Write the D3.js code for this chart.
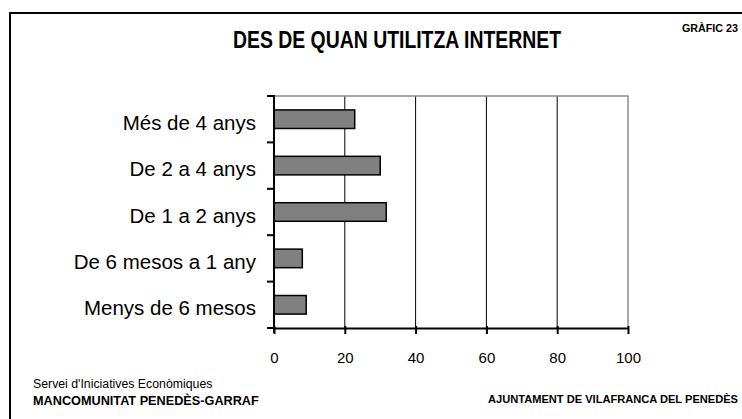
<!DOCTYPE html>
<html>
<head>
<meta charset="utf-8">
<script src="https://cdn.jsdelivr.net/npm/d3@7"></script>
<style>
  body { margin: 0; background: #fff; }
  svg { display: block; }
</style>
</head>
<body>
<svg id="chart"></svg>
<script>
// Data
const categories = ["Més de 4 anys", "De 2 a 4 anys", "De 1 a 2 anys", "De 6 mesos a 1 any", "Menys de 6 mesos"];
const values = [22.8, 30.0, 31.7, 8.0, 9.1];
const xTicks = [0, 20, 40, 60, 80, 100];

const width = 742;
const height = 419;
const margin = {top: 96, right: 114, bottom: 91, left: 274};
const narrow = "'Liberation Sans Narrow', 'Arial Narrow', 'Liberation Sans', sans-serif";
const regular = "'Liberation Sans', Arial, sans-serif";

const svg = d3.select("#chart")
    .attr("width", width)
    .attr("height", height);

// Frame (only top and left visible)
svg.append("path")
    .attr("d", `M10,${height + 5} L10,13 L${width + 5},13`)
    .attr("fill", "none")
    .attr("stroke", "#000")
    .attr("stroke-width", 2);

// Scales
const x = d3.scaleLinear()
    .domain([0, 100])
    .range([margin.left, width - margin.right]);

const y = d3.scaleBand()
    .domain(categories)
    .range([margin.top, height - margin.bottom])
    .paddingInner(0.6)
    .paddingOuter(0.3);

const yOuter = d3.scaleBand()
    .domain(categories)
    .range([margin.top, height - margin.bottom]);

// Gridlines
svg.append("g")
    .selectAll("line")
    .data(xTicks.slice(1, -1))
    .join("line")
    .attr("x1", d => x(d))
    .attr("x2", d => x(d))
    .attr("y1", margin.top)
    .attr("y2", height - margin.bottom)
    .attr("stroke", "#000")
    .attr("stroke-width", 1);

// Plot area border (top and right, gray)
svg.append("path")
    .attr("d", `M${x(0)},${margin.top} L${x(100)},${margin.top} L${x(100)},${height - margin.bottom}`)
    .attr("fill", "none")
    .attr("stroke", "#8c8c8c")
    .attr("stroke-width", 1.5);

// Bars
svg.append("g")
    .selectAll("rect")
    .data(categories)
    .join("rect")
    .attr("x", x(0))
    .attr("y", d => y(d))
    .attr("width", (d, i) => x(values[i]) - x(0))
    .attr("height", y.bandwidth())
    .attr("fill", "#808080")
    .attr("stroke", "#000")
    .attr("stroke-width", 1.5);

// Y axis
const yAxis = svg.append("g")
    .attr("transform", `translate(${x(0)},0)`);
yAxis.append("line")
    .attr("x1", 0).attr("x2", 0)
    .attr("y1", margin.top).attr("y2", height - margin.bottom + 5)
    .attr("stroke", "#000").attr("stroke-width", 2);
yAxis.selectAll(".tick")
    .data(categories.concat(["end"]))
    .join("line")
    .attr("x1", -7).attr("x2", 1)
    .attr("y1", (d, i) => i < categories.length ? yOuter(d) : height - margin.bottom)
    .attr("y2", (d, i) => i < categories.length ? yOuter(d) : height - margin.bottom)
    .attr("stroke", "#000").attr("stroke-width", 2);
yAxis.selectAll("text")
    .data(categories)
    .join("text")
    .attr("x", -18)
    .attr("y", d => yOuter(d) + yOuter.bandwidth() / 2 + 10.5)
    .attr("text-anchor", "end")
    .style("font-family", regular)
    .style("font-size", "20.5px")
    .text(d => d);

// X axis
const xAxis = svg.append("g")
    .attr("transform", `translate(0,${height - margin.bottom})`)
    .call(d3.axisBottom(x).tickValues(xTicks).tickSize(6).tickSizeOuter(0));
xAxis.select(".domain").attr("stroke-width", 2);
xAxis.selectAll(".tick line").attr("stroke-width", 2).attr("y1", -2);
xAxis.selectAll(".tick text")
    .attr("y", 35)
    .attr("dy", 0)
    .style("font-family", regular)
    .style("font-size", "15px");

// Title
svg.append("text")
    .attr("x", 397)
    .attr("y", 48)
    .attr("text-anchor", "middle")
    .attr("textLength", 328)
    .attr("lengthAdjust", "spacingAndGlyphs")
    .style("font-family", narrow)
    .style("font-weight", "bold")
    .style("font-size", "24px")
    .text("DES DE QUAN UTILITZA INTERNET");

svg.append("text")
    .attr("x", 738)
    .attr("y", 32)
    .attr("text-anchor", "end")
    .attr("textLength", 56)
    .attr("lengthAdjust", "spacingAndGlyphs")
    .style("font-family", narrow)
    .style("font-weight", "bold")
    .style("font-size", "11px")
    .text("GRÀFIC 23");

// Footer
svg.append("text")
    .attr("x", 33)
    .attr("y", 387.5)
    .style("font-family", regular)
    .style("font-size", "12.3px")
    .text("Servei d'Iniciatives Econòmiques");

svg.append("text")
    .attr("x", 33)
    .attr("y", 404.5)
    .style("font-family", regular)
    .style("font-weight", "bold")
    .style("font-size", "12.7px")
    .text("MANCOMUNITAT PENEDÈS-GARRAF");

svg.append("text")
    .attr("x", 488)
    .attr("y", 403)
    .attr("textLength", 250)
    .attr("lengthAdjust", "spacingAndGlyphs")
    .style("font-family", narrow)
    .style("font-weight", "bold")
    .style("font-size", "11px")
    .text("AJUNTAMENT DE VILAFRANCA DEL PENEDÈS");
</script>
</body>
</html>
